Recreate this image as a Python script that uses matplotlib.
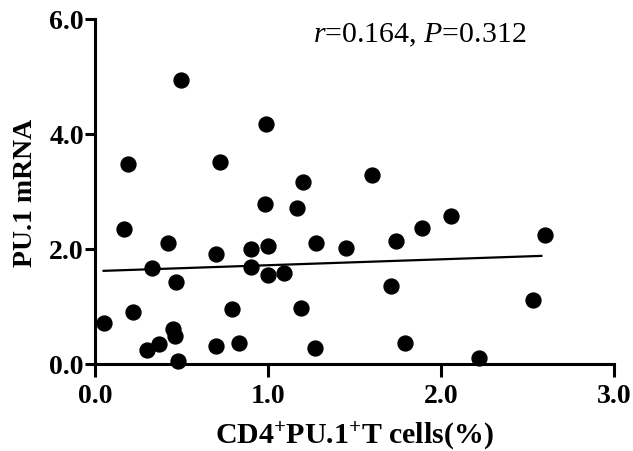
import numpy as np
import matplotlib.pyplot as plt

plt.rcParams['font.family'] = 'Liberation Serif'
plt.rcParams['mathtext.fontset'] = 'custom'
plt.rcParams['mathtext.rm'] = 'Liberation Serif'
plt.rcParams['mathtext.it'] = 'Liberation Serif:italic'
plt.rcParams['mathtext.bf'] = 'Liberation Serif:bold'

# CD4+PU.1+ T cells (%) vs PU.1 mRNA
cells_pct = [0.50, 0.99, 0.19, 0.72, 1.20, 1.60,
             0.98, 1.17, 0.17, 0.42, 0.70, 0.90, 1.00, 1.28, 1.45,
             0.33, 0.90, 1.00, 1.09, 0.47, 0.22, 0.79, 1.19, 0.05,
             0.45, 0.46, 0.30, 0.37, 0.70, 0.83, 1.27, 0.48,
             1.74, 1.89, 2.06, 2.60, 1.71, 2.53, 1.79, 2.22]
pu1_mrna = [4.94, 4.17, 3.48, 3.52, 3.17, 3.29,
            2.78, 2.71, 2.34, 2.10, 1.91, 2.00, 2.05, 2.10, 2.01,
            1.67, 1.69, 1.55, 1.59, 1.43, 0.91, 0.96, 0.98, 0.72,
            0.60, 0.49, 0.24, 0.34, 0.32, 0.36, 0.27, 0.05,
            2.14, 2.37, 2.57, 2.24, 1.36, 1.12, 0.36, 0.10]

# fitted line end points
fit_x = [0.05, 2.58]
fit_y = [1.62, 1.88]

x_ticks = [0.0, 1.0, 2.0, 3.0]
y_ticks = [0.0, 2.0, 4.0, 6.0]

fig = plt.figure(figsize=(6.33, 4.52), dpi=100)
ax = fig.add_axes([0.150, 0.1925, 0.820, 0.7633])

ax.scatter(cells_pct, pu1_mrna, s=115, color='black', zorder=3, clip_on=False)
ax.plot(fit_x, fit_y, color='black', linewidth=1.6)

ax.set_xlim(0, 3)
ax.set_ylim(0, 6)
ax.set_xticks(x_ticks)
ax.set_yticks(y_ticks)
ax.set_xticklabels([f'{v:.1f}' for v in x_ticks], fontsize=20, fontweight='bold')
ax.set_yticklabels([f'{v:.1f}' for v in y_ticks], fontsize=20, fontweight='bold')

for side in ['top', 'right']:
    ax.spines[side].set_visible(False)
for side in ['left', 'bottom']:
    ax.spines[side].set_linewidth(2.2)
ax.tick_params(axis='y', direction='out', length=7, width=2.2, pad=1)
ax.tick_params(axis='x', direction='out', length=9, width=2.2, pad=5)

ax.set_xlabel(r'CD4$^{\mathbf{+}}$PU.1$^{\mathbf{+}}$T cells(%)', fontsize=21.5,
              fontweight='bold', labelpad=8)
ax.set_ylabel('PU.1 mRNA', fontsize=20, fontweight='bold', labelpad=8)

ax.text(0.42, 0.955, r'$\mathit{r}$=0.164, $\mathit{P}$=0.312', transform=ax.transAxes,
        fontsize=21.5, ha='left', va='center')

fig.savefig('out.png', dpi=100)
